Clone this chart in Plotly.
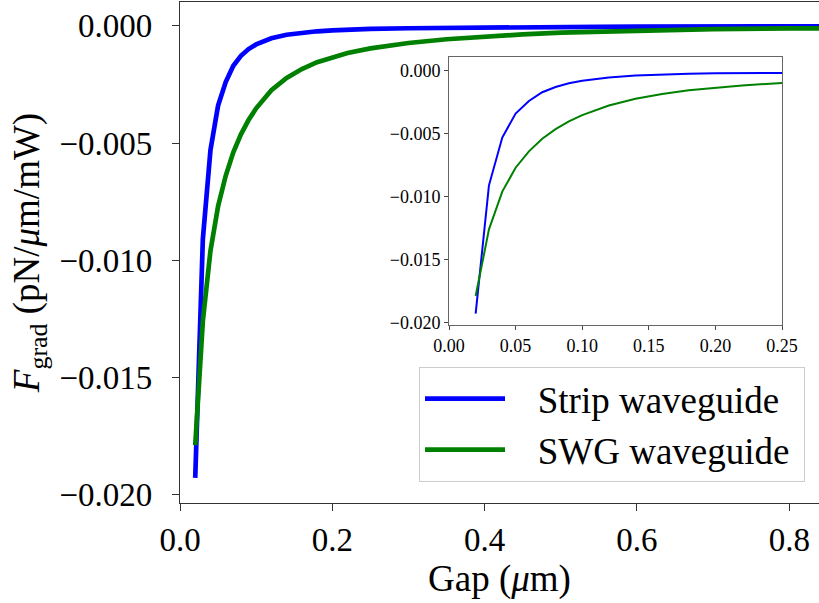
import plotly.graph_objects as go

# Data
gap_um = [0.02, 0.03, 0.04, 0.05, 0.06, 0.07, 0.08, 0.09, 0.10, 0.12, 0.14, 0.16,
          0.18, 0.20, 0.22, 0.25, 0.30, 0.35, 0.40, 0.45, 0.50, 0.55, 0.60, 0.70,
          0.80, 0.90]
strip_force = [-0.0193, -0.0091, -0.0053, -0.0034, -0.0024, -0.0017, -0.00128, -0.00099,
               -0.00079, -0.00053, -0.00038, -0.00029, -0.00023, -0.00019, -0.00016,
               -0.00013, -0.00010, -0.00008, -0.000065, -0.000055, -0.000045, -0.000039,
               -0.000033, -0.000025, -0.00002, -0.000016]
swg_force = [-0.0179, -0.0126, -0.0096, -0.0077, -0.0064, -0.0054, -0.00463, -0.00402,
             -0.00352, -0.00275, -0.00222, -0.00184, -0.00155, -0.00133, -0.00116,
             -0.00096, -0.00073, -0.00057, -0.00045, -0.00036, -0.00029, -0.00024,
             -0.00020, -0.00014, -0.00011, -0.00009]
series_names = ["Strip waveguide", "SWG waveguide"]
main_xticks = [0.0, 0.2, 0.4, 0.6, 0.8]
main_yticks = [0.0, -0.005, -0.010, -0.015, -0.020]
inset_xticks = [0.0, 0.05, 0.10, 0.15, 0.20, 0.25]
inset_yticks = [0.0, -0.005, -0.010, -0.015, -0.020]

BLUE = "#0000ff"
GREEN = "#008000"
FONT = "Liberation Serif"
PAD = "\u00a0\u00a0\u00a0"

fig = go.Figure()
fig.add_trace(go.Scatter(x=gap_um, y=strip_force, mode="lines",
                         name=PAD + series_names[0] + "\u00a0",
                         line=dict(color=BLUE, width=4.7), xaxis="x", yaxis="y"))
fig.add_trace(go.Scatter(x=gap_um, y=swg_force, mode="lines",
                         name=PAD + series_names[1] + "\u00a0",
                         line=dict(color=GREEN, width=4.7), xaxis="x", yaxis="y"))
fig.add_trace(go.Scatter(x=gap_um, y=strip_force, mode="lines", showlegend=False,
                         line=dict(color=BLUE, width=2), xaxis="x2", yaxis="y2"))
fig.add_trace(go.Scatter(x=gap_um, y=swg_force, mode="lines", showlegend=False,
                         line=dict(color=GREEN, width=2), xaxis="x2", yaxis="y2"))

W, H = 819, 603
ml, mr, mt, mb = 180, 0, 2, 100
pw, ph = W - ml - mr, H - mt - mb

def px_x(p):
    return (p - ml) / pw

def px_y(p):
    return (H - mb - p) / ph

spine = "#333333"
fig.update_layout(
    width=W, height=H,
    margin=dict(l=ml, r=mr, t=mt, b=mb, autoexpand=False),
    paper_bgcolor="white", plot_bgcolor="white",
    font=dict(family=FONT, color="black", size=33),
    xaxis=dict(domain=[0, 1], range=[0, 0.839], tickvals=main_xticks, tickformat=".1f",
               showgrid=False, zeroline=False, showline=True, linecolor=spine, linewidth=1.3,
               mirror=True, ticks="outside", ticklen=7, tickcolor=spine, tickwidth=1.3,
               tickfont=dict(size=33), automargin=False,
               title=dict(text="Gap (<i>μ</i>m)", font=dict(size=37), standoff=2)),
    yaxis=dict(domain=[0, 1], range=[-0.02037, 0.00102], tickvals=main_yticks, tickformat=".3f",
               showgrid=False, zeroline=False, showline=True, linecolor=spine, linewidth=1.3,
               mirror=False, ticks="outside", ticklen=7, tickcolor=spine, tickwidth=1.3,
               tickfont=dict(size=33), automargin=False, ticklabelstandoff=13,
               title=dict(text="<i>F</i><sub>grad</sub> (pN/<i>μ</i>m/mW)", font=dict(size=37),
                          standoff=8)),
    xaxis2=dict(domain=[px_x(449), px_x(782)], anchor="y2", range=[0, 0.25],
                tickvals=inset_xticks, tickformat=".2f", automargin=False,
                showgrid=False, zeroline=False, showline=True, linecolor="#666666", linewidth=1,
                mirror=True, ticks="outside", ticklen=4, tickcolor="#444444",
                tickfont=dict(size=18)),
    yaxis2=dict(domain=[px_y(325), px_y(57)], anchor="x2", range=[-0.0202, 0.0011],
                tickvals=inset_yticks, tickformat=".3f", automargin=False,
                showgrid=False, zeroline=False, showline=True, linecolor="#666666", linewidth=1,
                mirror=True, ticks="outside", ticklen=4, tickcolor="#444444",
                tickfont=dict(size=18)),
    legend=dict(x=px_x(419), y=px_y(367), xanchor="left", yanchor="top",
                bgcolor="rgba(255,255,255,0.9)", bordercolor="#cccccc", borderwidth=1,
                font=dict(size=37, family=FONT), itemwidth=80),
    showlegend=True,
)

fig.write_html("out.html", config={"displayModeBar": False},
               post_script="document.body.style.margin='0';document.body.style.overflow='hidden';")
